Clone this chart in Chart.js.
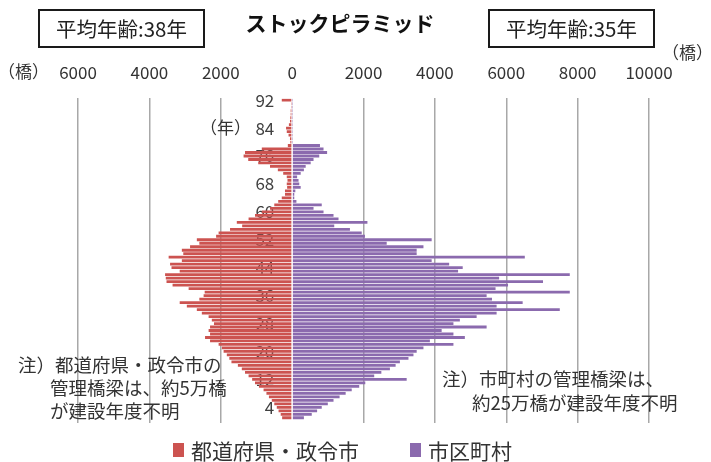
<!DOCTYPE html>
<html>
<head>
<meta charset="utf-8">
<script src="https://cdn.jsdelivr.net/npm/chart.js@4.4.1/dist/chart.umd.min.js"></script>
<style>
  html,body{margin:0;padding:0;background:#fff;}
  #wrap{position:relative;width:711px;height:462px;overflow:hidden;font-family:"Noto Sans CJK JP","Noto Sans",sans-serif;color:#222;}
  canvas{position:absolute;left:0;top:0;}
  .t{position:absolute;white-space:nowrap;}
  .box{position:absolute;box-sizing:border-box;border:2.5px solid #1a1a1a;text-align:center;font-size:20.5px;line-height:34px;height:39px;width:167px;top:9px;}
  .note{font-size:18.5px;color:#333;line-height:23px;}
  .sw{position:absolute;width:11px;height:14px;}
</style>
</head>
<body>
<div id="wrap">
  <canvas id="c" width="711" height="462"></canvas>
  <div class="t" style="left:240px;width:200px;top:9px;text-align:center;font-size:21px;font-weight:700;line-height:26px;color:#111;">ストックピラミッド</div>
  <div class="box" style="left:38px;">平均年齢:38年</div>
  <div class="box" style="left:488px;">平均年齢:35年</div>
  <div class="t" style="left:-2px;top:60px;font-size:17px;line-height:22px;color:#333;">（橋）</div>
  <div class="t" style="left:662px;top:41px;font-size:17px;line-height:22px;color:#333;">（橋）</div>
  <div class="t" style="left:200px;top:116px;font-size:17px;line-height:22px;color:#333;">（年）</div>
  <div class="t note" style="left:18px;top:353px;">注）都道府県・政令市の</div>
  <div class="t note" style="left:50px;top:376px;">管理橋梁は、約5万橋</div>
  <div class="t note" style="left:50px;top:399px;">が建設年度不明</div>
  <div class="t note" style="left:442px;top:367px;">注）市町村の管理橋梁は、</div>
  <div class="t note" style="left:472px;top:391px;">約25万橋が建設年度不明</div>
  <div class="sw" style="left:173px;top:443px;background:#cc5350;"></div>
  <div class="t" style="left:191px;top:437px;font-size:21px;line-height:26px;color:#333;">都道府県・政令市</div>
  <div class="sw" style="left:410px;top:443px;background:#8b6aae;"></div>
  <div class="t" style="left:428px;top:437px;font-size:21px;line-height:26px;color:#333;">市区町村</div>
</div>
<script>
// Categories: bridge age (years since construction), 0 .. 92
const years = [0,1,2,3,4,5,6,7,8,9,10,11,12,13,14,15,16,17,18,19,20,21,22,23,24,25,26,27,28,29,30,
  31,32,33,34,35,36,37,38,39,40,41,42,43,44,45,46,47,48,49,50,51,52,53,54,55,56,57,58,59,60,
  61,62,63,64,65,66,67,68,69,70,71,72,73,74,75,76,77,78,79,80,81,82,83,84,85,86,87,88,89,90,91,92];

// 都道府県・政令市 (number of bridges, plotted to the left)
const prefCity = [0,280,320,380,430,500,570,650,720,800,930,1040,1120,1220,1320,1410,1520,1700,1760,1830,
  1920,1970,2060,2300,2440,2300,2340,2300,2190,2250,2340,2530,2670,2950,3150,2600,2480,2450,2900,3350,
  3520,3540,3560,3150,3380,3420,3090,3460,3050,3090,2860,2600,2670,2130,2060,1740,1400,1550,1220,1040,
  850,620,500,390,290,200,200,140,150,130,150,250,400,620,950,1230,1360,1320,850,120,
  50,60,100,150,170,90,60,50,40,40,30,30,290];

// 市区町村 (number of bridges, plotted to the right)
const municipal = [0,330,550,700,830,1000,1160,1330,1500,1670,1880,2050,3210,2300,2500,2740,2900,3020,3260,3400,
  3490,3680,4520,3860,4840,4520,4190,5450,4520,4700,5170,5730,7500,5730,6460,5600,5450,7780,5700,6050,
  7030,5800,7780,4650,4780,4400,3910,6520,3490,3490,3680,2650,3910,2040,1950,1620,1180,2110,1300,1160,
  880,600,830,120,60,60,90,240,200,180,140,240,330,380,520,600,760,980,880,780,
  10,10,10,10,10,10,10,10,10,10,10,10,10];

// Axis ticks (absolute values shown)
const xTicks = [-6000,-4000,-2000,0,2000,4000,6000,8000,10000];
const xMin = -6000, xMax = 10000, xStep = 2000;
const labelEvery = 8, labelStart = 4;

const RED = '#cc5350', PURPLE = '#8b6aae';
const FONT = '"Noto Sans CJK JP","Noto Sans",sans-serif';

new Chart(document.getElementById('c'), {
  type: 'bar',
  data: {
    labels: years.map(String),
    datasets: [
      { label: '都道府県・政令市', data: prefCity.map(v => -v), backgroundColor: RED,
        barPercentage: 0.8, categoryPercentage: 1, borderWidth: 0 },
      { label: '市区町村', data: municipal, backgroundColor: PURPLE,
        barPercentage: 0.8, categoryPercentage: 1, borderWidth: 0 }
    ]
  },
  options: {
    indexAxis: 'y',
    responsive: false,
    animation: false,
    devicePixelRatio: 1,
    layout: { padding: { left: 78, right: 62, top: 46, bottom: 39 } },
    plugins: { legend: { display: false }, tooltip: { enabled: false } },
    scales: {
      x: {
        type: 'linear', position: 'top', stacked: true,
        min: xMin, max: xMax,
        afterBuildTicks: s => { s.ticks = xTicks.map(v => ({ value: v })); },
        ticks: { stepSize: xStep, callback: v => String(Math.abs(v)), font: { family: FONT, size: 17 }, color: '#333', padding: 16, maxRotation: 0 },
        grid: { drawTicks: false, lineWidth: 1.5, color: c => (c.tick && c.tick.value === 0) ? 'rgba(0,0,0,0)' : '#a8a8a8' },
        border: { display: false }
      },
      y: {
        type: 'category', stacked: true, reverse: true,
        position: { x: -500 }, z: 1,
        grid: { display: false, drawTicks: false },
        border: { display: false },
        ticks: {
          autoSkip: false, font: { family: FONT, size: 17 }, color: '#404040', padding: 0,
          callback: function (v, i) { const a = years[i]; return ((a - labelStart) % labelEvery === 0) ? String(a) : ''; }
        }
      }
    }
  }
});
</script>
</body>
</html>
